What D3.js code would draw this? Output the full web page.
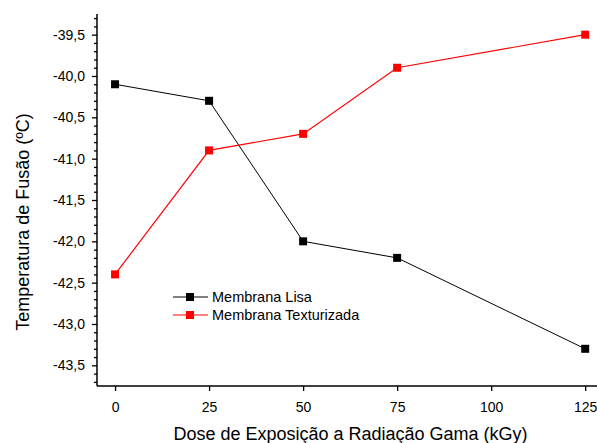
<!DOCTYPE html>
<html>
<head>
<meta charset="utf-8">
<script src="https://cdn.jsdelivr.net/npm/d3@7/dist/d3.min.js"></script>
<style>
  html, body { margin: 0; padding: 0; background: #fff; }
  svg { display: block; }
  text { font-family: "Liberation Sans", Arial, sans-serif; fill: #000; }
</style>
</head>
<body>
<svg id="chart" width="597" height="443"></svg>
<script>
// Dose de radiação (kGy)
const doses = [0, 25, 50, 75, 125];
// Temperatura de fusão (ºC) para cada membrana
const lisa = [-40.1, -40.3, -42.0, -42.2, -43.3];
const texturizada = [-42.4, -40.9, -40.7, -39.9, -39.5];

const seriesNames = ["Membrana Lisa", "Membrana Texturizada"];
const seriesColors = ["#000000", "#ff0000"];

const xTicks = [0, 25, 50, 75, 100, 125];
const yTicks = [-43.5, -43.0, -42.5, -42.0, -41.5, -41.0, -40.5, -40.0, -39.5];

const xTitle = "Dose de Exposição a Radiação Gama (kGy)";
const yTitle = "Temperatura de Fusão (ºC)";

const svg = d3.select("#chart");

const plotLeft = 97, plotRight = 604, plotTop = 14, plotBottom = 386;
const tickFont = 14, titleFont = 18, legendFont = 14.5;

const x = d3.scaleLinear().domain([-4.8, 130]).range([plotLeft, plotRight]);
const y = d3.scaleLinear().domain([-43.75, -39.25]).range([plotBottom, plotTop]);

const fmt = v => d3.format(".1f")(v).replace(".", ",").replace("−", "-");

// Eixo Y com ticks menores a cada 0,1
const yMinor = d3.range(-43.7, -39.25, 0.1).map(v => Math.round(v * 10) / 10)
  .filter(v => !yTicks.some(t => Math.abs(t - v) < 1e-6));

const yMinorG = svg.append("g").attr("transform", `translate(${plotLeft},0)`);
yMinorG.call(d3.axisLeft(y).tickValues(yMinor).tickSize(3).tickFormat(""))
  .call(g => g.select(".domain").remove());
yMinorG.selectAll(".tick line").attr("stroke", "#000").attr("stroke-width", 1.3);

const yMajorG = svg.append("g").attr("transform", `translate(${plotLeft},0)`)
  .call(d3.axisLeft(y).tickValues(yTicks).tickSize(5).tickPadding(7).tickFormat(fmt));
yMajorG.select(".domain").attr("d", `M0,${plotTop}V${plotBottom}`).attr("stroke", "#000").attr("stroke-width", 1.5);
yMajorG.selectAll(".tick line").attr("stroke", "#000").attr("stroke-width", 1.3);
yMajorG.selectAll(".tick text").attr("font-size", tickFont).attr("font-family", "Liberation Sans, Arial, sans-serif");

// Eixo X
const xAxisG = svg.append("g").attr("transform", `translate(0,${plotBottom})`)
  .call(d3.axisBottom(x).tickValues(xTicks).tickSize(5).tickPadding(11).tickFormat(d3.format("d")));
xAxisG.select(".domain").attr("d", `M${plotLeft},0H${plotRight}`).attr("stroke", "#000").attr("stroke-width", 1.5);
xAxisG.selectAll(".tick line").attr("stroke", "#000").attr("stroke-width", 1.3);
xAxisG.selectAll(".tick text").attr("font-size", tickFont).attr("font-family", "Liberation Sans, Arial, sans-serif");

// Títulos dos eixos
svg.append("text")
  .attr("x", 350.5).attr("y", 440)
  .attr("text-anchor", "middle")
  .attr("font-size", titleFont)
  .text(xTitle);

svg.append("text")
  .attr("transform", "translate(29,222) rotate(-90)")
  .attr("text-anchor", "middle")
  .attr("font-size", titleFont)
  .text(yTitle);

// Séries
const allSeries = [lisa, texturizada];
const line = d3.line().x((d, i) => x(doses[i])).y(d => y(d));
const ms = 8;

allSeries.forEach((vals, si) => {
  svg.append("path")
    .datum(vals)
    .attr("fill", "none")
    .attr("stroke", seriesColors[si])
    .attr("stroke-width", si === 0 ? 1 : 1.2)
    .attr("d", line);
  svg.append("g").selectAll("rect")
    .data(vals)
    .join("rect")
    .attr("x", (d, i) => x(doses[i]) - ms / 2)
    .attr("y", d => y(d) - ms / 2)
    .attr("width", ms)
    .attr("height", ms)
    .attr("fill", seriesColors[si]);
});

// Legenda
const legend = svg.append("g");
seriesNames.forEach((name, i) => {
  const ly = 297 + i * 18;
  legend.append("line")
    .attr("x1", 173).attr("x2", 208)
    .attr("y1", ly).attr("y2", ly)
    .attr("stroke", seriesColors[i])
    .attr("stroke-width", i === 0 ? 1 : 1.2);
  legend.append("rect")
    .attr("x", 190 - ms / 2).attr("y", ly - ms / 2)
    .attr("width", ms).attr("height", ms)
    .attr("fill", seriesColors[i]);
  legend.append("text")
    .attr("x", 212).attr("y", ly + 5)
    .attr("font-size", legendFont)
    .text(name);
});
</script>
</body>
</html>
